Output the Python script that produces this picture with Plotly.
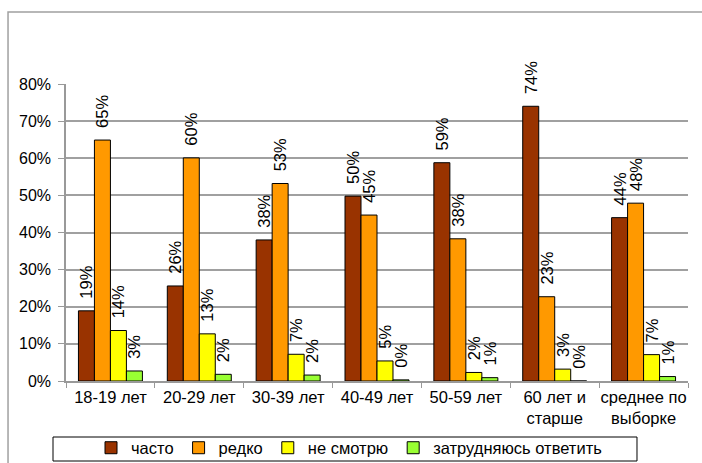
import plotly.graph_objects as go

categories = ["18-19 лет", "20-29 лет", "30-39 лет", "40-49 лет", "50-59 лет",
              "60 лет и<br>старше", "среднее по<br>выборке"]
series_names = ["часто", "редко", "не смотрю", "затрудняюсь ответить"]
often = [18.9, 25.6, 38.0, 49.8, 58.8, 74.0, 44.0]
rarely = [64.9, 60.1, 53.2, 44.7, 38.3, 22.7, 47.9]
not_watch = [13.6, 12.7, 7.2, 5.4, 2.3, 3.2, 7.1]
hard_to_say = [2.7, 1.8, 1.6, 0.3, 0.9, 0.0, 1.2]
y_ticks = [0, 10, 20, 30, 40, 50, 60, 70, 80]
y_tick_labels = [f"{v}%" for v in y_ticks]

colors = ["#993300", "#FF9900", "#FFFF00", "#99FF33"]
FONT = "Liberation Sans, Arial, sans-serif"
FS = 16.5

fig = go.Figure()
for name, vals, col in zip(series_names, [often, rarely, not_watch, hard_to_say], colors):
    fig.add_trace(go.Bar(
        x=categories, y=vals, name=name,
        marker=dict(color=col, line=dict(color="#000000", width=1)),
        texttemplate="\u00a0\u00a0%{y:.0f}%", textposition="outside",
        textangle=-90, cliponaxis=False, constraintext="none",
        textfont=dict(family=FONT, size=FS, color="#000000"),
        hoverinfo="skip",
    ))

fig.update_layout(
    width=702, height=463,
    margin=dict(l=66, r=14, t=84, b=82, autoexpand=False),
    paper_bgcolor="white", plot_bgcolor="white",
    barmode="group", bargap=0.28, bargroupgap=0,
    font=dict(family=FONT, size=FS, color="#000000"),
    showlegend=True,
    legend=dict(orientation="h", x=0.455, xanchor="center", y=-0.2256, yanchor="middle",
                font=dict(family=FONT, size=FS, color="#000000"),
                bgcolor="rgba(0,0,0,0)", borderwidth=0, itemwidth=30,
                traceorder="normal"),
    xaxis=dict(showline=True, linecolor="#999999", linewidth=1.5,
               ticks="outside", tickson="boundaries", ticklen=5, tickcolor="#999999",
               tickangle=0,
               tickfont=dict(family=FONT, size=FS, color="#000000"),
               showgrid=False, fixedrange=True),
    yaxis=dict(range=[0, 80], tickmode="array", tickvals=y_ticks, ticktext=y_tick_labels,
               showline=True, linecolor="#999999", linewidth=1.5,
               ticks="outside", ticklen=6, tickcolor="#999999", ticklabelstandoff=4,
               showgrid=True, gridcolor="#A0A0A0", gridwidth=1.5,
               zeroline=False,
               tickfont=dict(family=FONT, size=16, color="#000000"),
               fixedrange=True),
    shapes=[
        dict(type="rect", xref="paper", yref="paper",
             x0=-0.0932, x1=2.0, y0=-0.6, y1=1.2424,
             line=dict(color="#A0A0A0", width=1.5), fillcolor="rgba(0,0,0,0)", layer="below"),
        dict(type="rect", xref="paper", yref="paper",
             x0=-0.0209, x1=0.918, y0=-0.2694, y1=-0.1886,
             line=dict(color="#000000", width=1), fillcolor="rgba(0,0,0,0)"),
    ],
)

fig.write_html("out.html", config={"displayModeBar": False})
